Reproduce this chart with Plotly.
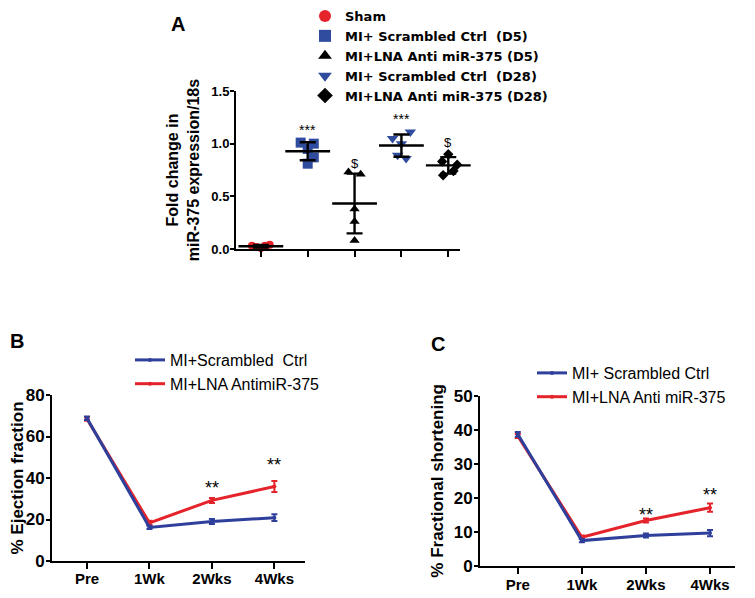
import numpy as np
import plotly.graph_objects as go

FONT = "Liberation Sans, Arial, sans-serif"
WIDE = "DejaVu Sans, Liberation Sans, sans-serif"

# ---------------- Panel A data ----------------
group_names = ["Sham", "MI+ Scrambled Ctrl  (D5)", "MI+LNA Anti miR-375 (D5)",
               "MI+ Scrambled Ctrl  (D28)", "MI+LNA Anti miR-375 (D28)"]
sham_vals = [0.03, 0.02, 0.01, 0.03, 0.04]
scr_d5_vals = [1.01, 1.00, 0.95, 0.87, 0.81]
lna_d5_vals = [0.73, 0.71, 0.38, 0.26, 0.08]
scr_d28_vals = [1.11, 1.05, 1.00, 0.89, 0.86]
lna_d28_vals = [0.90, 0.83, 0.80, 0.74, 0.70]
sig_labels_a = ["", "***", "$", "***", "$"]

# ---------------- Panel B / C data ----------------
time_points = ["Pre", "1Wk", "2Wks", "4Wks"]
ef_scr = [68.8, 16.2, 19.0, 20.9]
ef_scr_err = [0.8, 0.8, 1.2, 1.6]
ef_lna = [68.4, 18.4, 29.2, 35.9]
ef_lna_err = [0.8, 1.0, 1.2, 2.7]
ef_sig = ["", "", "**", "**"]

fs_scr = [38.7, 7.4, 8.9, 9.6]
fs_scr_err = [0.7, 0.5, 0.6, 0.9]
fs_lna = [38.2, 8.4, 13.3, 17.1]
fs_lna_err = [0.6, 0.5, 0.6, 1.2]
fs_sig = ["", "", "**", "**"]

# ---------------- geometry helpers (page has an 8px body margin) ----------------
W, H, OFF = 747, 590, 8


def px(x):
    return (x - OFF) / W


def py(y):
    return 1 - (y - OFF) / H


# ---------------- styles ----------------
RED = "#E4232B"
BLUE = "#2F4C9E"
LBLUE = "#2E3F9C"
group_vals = [sham_vals, scr_d5_vals, lna_d5_vals, scr_d28_vals, lna_d28_vals]
group_colors = [RED, BLUE, "black", BLUE, "black"]
group_symbols = ["circle", "square", "triangle-up", "triangle-down", "diamond"]
group_sizes = [8, 10, 9, 10, 8]
sig_shift_a = [0, 3, -1, 3, 2]
# horizontal spread of the dots in each column (category units)
spread = [
    [-0.19, -0.09, 0.0, 0.09, 0.19],
    [-0.15, 0.13, 0.0, 0.13, 0.0],
    [-0.13, 0.13, 0.0, 0.0, 0.0],
    [0.19, -0.19, 0.0, -0.08, 0.1],
    [0.0, -0.13, 0.19, 0.11, -0.11],
]

fig = go.Figure()

# Panel A dots
for i, (name, vals) in enumerate(zip(group_names, group_vals)):
    fig.add_trace(go.Scatter(
        x=[i + d for d in spread[i]], y=vals, mode="markers", name=name,
        marker=dict(symbol=group_symbols[i], color=group_colors[i], size=group_sizes[i],
                    line=dict(width=0)),
        xaxis="x", yaxis="y", legend="legend", cliponaxis=False,
    ))

means = [float(np.mean(v)) for v in group_vals]
sds = [float(np.std(v, ddof=1)) for v in group_vals]
fig.add_trace(go.Scatter(
    x=list(range(len(group_names))), y=means, mode="markers", showlegend=False,
    marker=dict(symbol="line-ew-open", size=32, color="black", line=dict(width=2.4, color="black")),
    error_y=dict(type="data", array=sds, visible=True, color="black", thickness=2.4, width=8),
    xaxis="x", yaxis="y", cliponaxis=False,
))


# Panel B and C lines
def add_lines(xa, ya, leg, scr, scr_err, lna, lna_err, scr_name, lna_name):
    fig.add_trace(go.Scatter(
        x=time_points, y=lna, name=lna_name, mode="lines+markers",
        line=dict(color=RED, width=3), marker=dict(size=4, color=RED),
        error_y=dict(type="data", array=lna_err, visible=True, color=RED, thickness=2, width=3),
        xaxis=xa, yaxis=ya, legend=leg, legendrank=2, cliponaxis=False,
    ))
    fig.add_trace(go.Scatter(
        x=time_points, y=scr, name=scr_name, mode="lines+markers",
        line=dict(color=LBLUE, width=3), marker=dict(size=4, color=LBLUE),
        error_y=dict(type="data", array=scr_err, visible=True, color=LBLUE, thickness=2, width=3),
        xaxis=xa, yaxis=ya, legend=leg, legendrank=1, cliponaxis=False,
    ))


add_lines("x2", "y2", "legend2", ef_scr, ef_scr_err, ef_lna, ef_lna_err,
          "MI+Scrambled  Ctrl", "MI+LNA AntimiR-375")
add_lines("x3", "y3", "legend3", fs_scr, fs_scr_err, fs_lna, fs_lna_err,
          "MI+ Scrambled Ctrl", "MI+LNA Anti miR-375")

annotations = []
# significance marks panel A
for i, lab in enumerate(sig_labels_a):
    if lab:
        annotations.append(dict(x=i, y=max(group_vals[i]), xref="x", yref="y", text=lab,
                                showarrow=False, yanchor="bottom", yshift=sig_shift_a[i],
                                font=dict(size=14 if lab == "***" else 13, color="black", family=FONT)))
# significance marks panels B/C
for xa, ya, vals, errs, sig, shifts in [("x2", "y2", ef_lna, ef_lna_err, ef_sig, [0, 0, -2, 4]),
                                        ("x3", "y3", fs_lna, fs_lna_err, fs_sig, [0, 0, -8, -3])]:
    for t, v, e, s, sh in zip(time_points, vals, errs, sig, shifts):
        if s:
            annotations.append(dict(x=t, y=v + e, xref=xa, yref=ya, text=s, showarrow=False,
                                    yanchor="bottom", yshift=sh,
                                    font=dict(size=18, color="black", family=FONT)))
# panel letters
for lab, lx, ly in [("A", 178, 24), ("B", 17, 341), ("C", 438, 344)]:
    annotations.append(dict(x=px(lx), y=py(ly), xref="paper", yref="paper", text=lab,
                            showarrow=False, xanchor="center", yanchor="middle",
                            font=dict(size=20, color="black", family=FONT, weight="bold")))

axis_common = dict(showline=True, linecolor="black", linewidth=2, showgrid=False, zeroline=False,
                   ticks="outside", tickcolor="black", tickwidth=2, mirror=False, automargin=False)

fig.update_layout(
    template="none",
    width=W, height=H, margin=dict(l=0, r=0, t=0, b=0, autoexpand=False),
    paper_bgcolor="white", plot_bgcolor="white",
    font=dict(family=FONT, color="black"),
    annotations=annotations,
    xaxis=dict(domain=[px(236), px(460)], range=[-0.53, 4.25], tickvals=list(range(5)),
               showticklabels=False, ticklen=6, anchor="y", **axis_common),
    yaxis=dict(domain=[py(249), py(91)], range=[0, 1.5], tickvals=[0, 0.5, 1.0, 1.5],
               tickformat=".1f", ticklen=4, anchor="x", ticklabelstandoff=-2,
               tickfont=dict(size=13, weight="bold", family=FONT),
               title=dict(text="Fold change in<br>miR-375 expression/18s", standoff=8,
                          font=dict(size=16, weight="bold", family=FONT)),
               **axis_common),
    xaxis2=dict(domain=[px(52), px(305)], range=[-0.56, 3.49], type="category",
                categoryorder="array", categoryarray=time_points, ticklen=6, anchor="y2",
                ticklabelstandoff=-3,
                tickfont=dict(size=15, weight="bold", family=FONT), **axis_common),
    yaxis2=dict(domain=[py(561), py(395)], range=[0, 80], dtick=20, ticklen=4, anchor="x2",
                ticklabelstandoff=-2,
                tickfont=dict(size=17, weight="bold", family=FONT),
                title=dict(text="% Ejection fraction", standoff=3,
                           font=dict(size=17, weight="bold", family=FONT)),
                **axis_common),
    xaxis3=dict(domain=[px(480), px(735)], range=[-0.59, 3.39], type="category",
                categoryorder="array", categoryarray=time_points, ticklen=6, anchor="y3",
                ticklabelstandoff=-2,
                tickfont=dict(size=15, weight="bold", family=FONT), **axis_common),
    yaxis3=dict(domain=[py(565.7), py(396)], range=[0, 50], dtick=10, ticklen=4, anchor="x3",
                ticklabelstandoff=-2,
                tickfont=dict(size=17, weight="bold", family=FONT),
                title=dict(text="% Fractional shortening", standoff=6,
                           font=dict(size=17, weight="bold", family=FONT)),
                **axis_common),
    legend=dict(x=px(305), y=py(1), xanchor="left", yanchor="top", bgcolor="rgba(0,0,0,0)",
                font=dict(size=13, weight="bold", family=WIDE), itemsizing="constant",
                tracegroupgap=0),
    legend2=dict(x=px(130), y=py(343), xanchor="left", yanchor="top", bgcolor="rgba(0,0,0,0)",
                 font=dict(size=16, family=FONT), tracegroupgap=0),
    legend3=dict(x=px(532), y=py(356), xanchor="left", yanchor="top", bgcolor="rgba(0,0,0,0)",
                 font=dict(size=16, family=FONT), tracegroupgap=0),
)

fig.write_html("out.html")
